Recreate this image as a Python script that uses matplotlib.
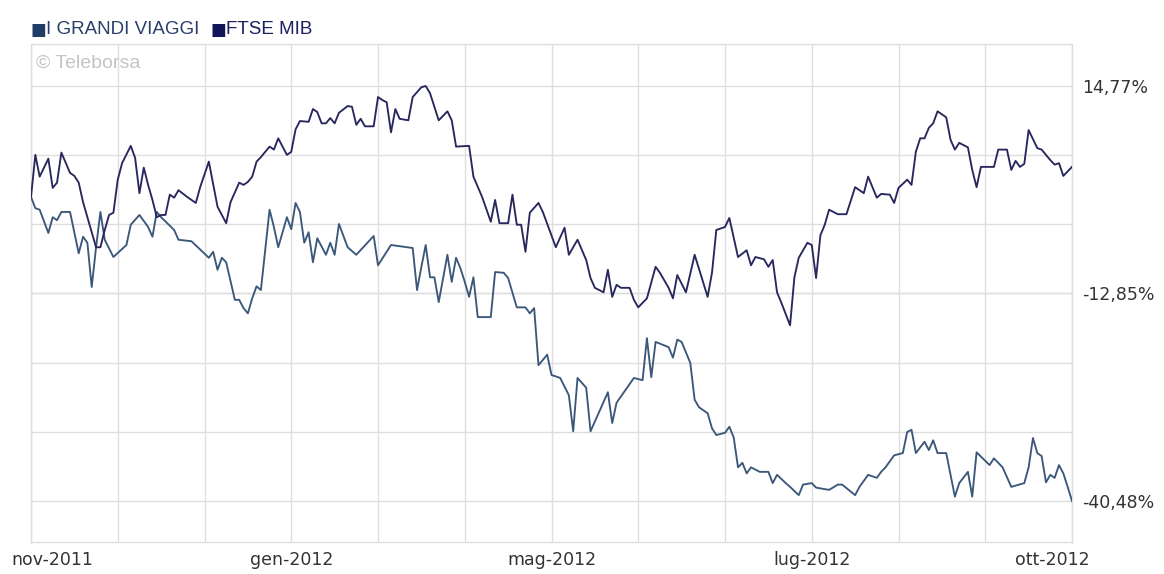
import numpy as np
import matplotlib
matplotlib.use("Agg")
import matplotlib.pyplot as plt

# trading-day index (0 = start of nov-2011) and % change vs start
ftse_day = [0, 1, 2, 4, 5, 6, 7, 9, 10, 11, 12, 15, 16, 17, 18, 19, 20, 21, 23, 24,
            25, 26, 27, 28, 29, 30, 31, 32, 33, 34, 36, 38, 39, 41, 43, 45, 46, 48, 49, 50,
            51, 52, 53, 55, 56, 57, 59, 60, 61, 62, 64, 65, 66, 67, 68, 69, 70, 71, 73, 74,
            75, 76, 77, 79, 80, 81, 82, 83, 84, 85, 87, 88, 90, 91, 92, 94, 96, 97, 98, 101,
            102, 104, 106, 107, 108, 110, 111, 112, 113, 114, 115, 117, 118, 121, 123, 124, 126, 128, 129, 130,
            132, 133, 134, 135, 136, 138, 139, 140, 142, 144, 145, 147, 148, 149, 151, 153, 156, 157, 158, 160,
            161, 163, 165, 166, 167, 169, 170, 171, 172, 173, 175, 176, 177, 179, 180, 181, 182, 183, 184, 186,
            188, 190, 192, 193, 195, 196, 198, 199, 200, 202, 203, 204, 205, 206, 207, 208, 209, 211, 212, 213,
            214, 216, 217, 218, 219, 222, 223, 225, 226, 227, 228, 229, 230, 232, 233, 235, 236, 237, 238, 240]
ftse_pct = [0.0, 5.6, 2.7, 5.1, 1.2, 1.9, 5.9, 3.2, 2.8, 1.9, -0.7, -6.7, -6.7, -4.4, -2.4, -2.1, 2.3, 4.5, 6.8, 5.2,
            0.5, 3.9, 1.6, -0.4, -2.7, -2.4, -2.4, 0.3, -0.1, 0.9, 0.0, -0.8, 1.3, 4.7, -1.3, -3.5, -0.7, 1.9, 1.6, 2.0,
            2.7, 4.7, 5.3, 6.7, 6.3, 7.8, 5.6, 6.0, 9.0, 10.1, 10.0, 11.7, 11.3, 9.8, 9.8, 10.5, 9.8, 11.2, 12.1, 12.0,
            9.6, 10.4, 9.4, 9.4, 13.3, 12.9, 12.6, 8.6, 11.7, 10.4, 10.2, 13.3, 14.6, 14.77, 13.8, 10.2, 11.4, 10.2, 6.7, 6.8,
            2.7, 0.0, -3.3, -0.4, -3.5, -3.5, 0.3, -3.7, -3.7, -7.3, -2.1, -0.8, -2.0, -6.7, -4.1, -7.7, -5.7, -8.4, -10.8, -12.1,
            -12.7, -9.7, -13.3, -11.7, -12.1, -12.1, -13.7, -14.7, -13.5, -9.3, -10.1, -12.1, -13.5, -10.4, -12.7, -7.7, -13.3, -10.1, -4.4, -4.0,
            -2.8, -8.0, -7.1, -9.1, -8.0, -8.3, -9.3, -8.4, -12.7, -14.1, -17.1, -10.7, -8.1, -6.1, -6.4, -10.8, -5.1, -3.7, -1.7, -2.3,
            -2.3, 1.3, 0.5, 2.7, -0.1, 0.4, 0.3, -0.8, 1.2, 2.3, 1.6, 6.0, 7.8, 7.8, 9.2, 9.8, 11.4, 10.6, 7.6, 6.3,
            7.2, 6.6, 3.6, 1.3, 4.0, 4.0, 6.3, 6.3, 3.6, 4.8, 4.0, 4.4, 8.9, 6.5, 6.3, 4.9, 4.3, 4.5, 2.8, 4.0]

igv_day = [0, 1, 2, 4, 5, 6, 7, 9, 11, 12, 13, 14, 15, 16, 17, 19, 22, 23, 25, 27,
           28, 29, 30, 33, 34, 37, 41, 42, 43, 44, 45, 47, 48, 49, 50, 51, 52, 53, 55, 56,
           57, 59, 60, 61, 62, 63, 64, 65, 66, 68, 69, 70, 71, 73, 75, 79, 80, 83, 88, 89,
           90, 91, 92, 93, 94, 96, 97, 98, 99, 100, 101, 102, 103, 106, 107, 109, 110, 112, 114, 115,
           116, 117, 119, 120, 122, 124, 125, 126, 128, 129, 133, 134, 135, 139, 141, 142, 143, 144, 147, 148,
           149, 150, 152, 153, 154, 156, 157, 158, 160, 161, 162, 163, 164, 165, 166, 168, 170, 171, 172, 174,
           175, 177, 178, 180, 181, 184, 186, 187, 190, 191, 193, 195, 196, 197, 199, 201, 202, 203, 204, 206,
           207, 208, 209, 211, 213, 214, 216, 217, 218, 221, 222, 224, 226, 229, 230, 231, 232, 233, 234, 235,
           236, 237, 238, 239, 240]
igv_pct = [0.0, -1.5, -1.7, -4.8, -2.7, -3.1, -2.0, -2.0, -7.5, -5.3, -6.1, -12.0, -6.7, -2.0, -5.7, -8.0, -6.4, -3.7, -2.4, -4.0,
           -5.3, -2.0, -2.7, -4.4, -5.7, -5.9, -8.1, -7.3, -9.7, -8.1, -8.7, -13.7, -13.7, -14.8, -15.5, -13.5, -11.9, -12.4, -1.7, -4.0,
           -6.7, -2.7, -4.3, -0.8, -2.0, -6.1, -4.7, -8.7, -5.5, -7.7, -6.1, -7.7, -3.6, -6.7, -7.7, -5.2, -9.1, -6.4, -6.8, -12.4,
           -9.3, -6.4, -10.7, -10.7, -14.0, -7.7, -11.3, -8.1, -9.5, -11.3, -13.3, -10.7, -16.0, -16.0, -10.0, -10.1, -10.8, -14.7, -14.7, -15.5,
           -14.8, -22.4, -21.0, -23.7, -24.1, -26.4, -31.2, -24.1, -25.4, -31.2, -26.0, -30.1, -27.4, -24.1, -24.4, -18.8, -24.0, -19.3, -20.0, -21.4,
           -19.0, -19.3, -22.1, -27.0, -28.0, -28.8, -30.8, -31.7, -31.4, -30.6, -32.0, -36.0, -35.4, -36.8, -36.0, -36.6, -36.6, -38.1, -37.0, -38.1,
           -38.6, -39.7, -38.3, -38.1, -38.7, -39.0, -38.3, -38.3, -39.7, -38.6, -37.0, -37.4, -36.6, -36.0, -34.4, -34.1, -31.3, -31.0, -34.1, -32.6,
           -33.7, -32.4, -34.1, -34.1, -39.9, -38.1, -36.6, -39.9, -34.0, -35.7, -34.8, -36.0, -38.6, -38.1, -36.0, -32.1, -34.1, -34.5, -38.0, -37.0,
           -37.4, -35.7, -36.8, -38.6, -40.48]

month_pos = [0, 60, 120, 180, 240]
month_labels = ["nov-2011", "gen-2012", "mag-2012", "lug-2012", "ott-2012"]
ylab_vals = [14.77, -12.85, -40.48]
ylab_text = ["14,77%", "-12,85%", "-40,48%"]

c_ftse = "#28275e"
c_igv = "#3b587a"
c_grid = "#dedede"
c_txt = "#333333"

W, H = 1164, 574
fig = plt.figure(figsize=(W / 100, H / 100), dpi=100)
ax = fig.add_axes([31 / W, 1 - 542 / H, (1072 - 31) / W, (542 - 44) / H])

ax.plot(igv_day, igv_pct, color=c_igv, lw=1.35, zorder=3)
ax.plot(ftse_day, ftse_pct, color=c_ftse, lw=1.35, zorder=3)

ax.set_xlim(0, 240)
ax.set_ylim(-45.94, 20.36)

# grid: 12 vertical slots, 7 horizontal lines between min and max
ax.set_xticks(np.arange(0, 241, 20))
ax.set_xticklabels([])
ax.set_yticks(np.linspace(ylab_vals[-1], ylab_vals[0], 7), minor=True)
ax.set_yticks(ylab_vals)
ax.set_yticklabels(ylab_text)
ax.yaxis.tick_right()
ax.tick_params(axis="both", which="both", length=0)
ax.tick_params(axis="y", pad=7, labelsize=12.5, labelcolor=c_txt)
ax.grid(True, which="both", color=c_grid, lw=1, zorder=0)
for s in ax.spines.values():
    s.set_color(c_grid)
    s.set_linewidth(1)

# month labels under the axis, end ones pushed inward
shifts = [15, 0, 0, 0, -14]
for pos, lab, dx in zip(month_pos, month_labels, shifts):
    ax.annotate(lab, xy=(pos, 0), xycoords=("data", "axes fraction"),
                xytext=(dx, -13), textcoords="offset points",
                ha="center", va="center", fontsize=12.5, color=c_txt)

# legend row
leg_y = 1 - 30 / H
fig.text(30 / W, leg_y, "\u25A0", fontsize=12, color="#1f3d66", va="center", ha="left")
fig.text(46 / W, leg_y, "I GRANDI VIAGGI", fontsize=13.5, family="Liberation Sans",
         color="#27406a", va="center", ha="left")
fig.text(210 / W, leg_y, "\u25A0", fontsize=12, color="#14145a", va="center", ha="left")
fig.text(226 / W, leg_y, "FTSE MIB", fontsize=13.5, family="Liberation Sans",
         color="#1c1e5e", va="center", ha="left")

fig.text(36 / W, 1 - 63 / H, "\u00A9 Teleborsa", fontsize=14, family="Liberation Sans",
         color="#c4c4c4", va="center", ha="left")

fig.savefig("out.png", dpi=100, facecolor="white")
